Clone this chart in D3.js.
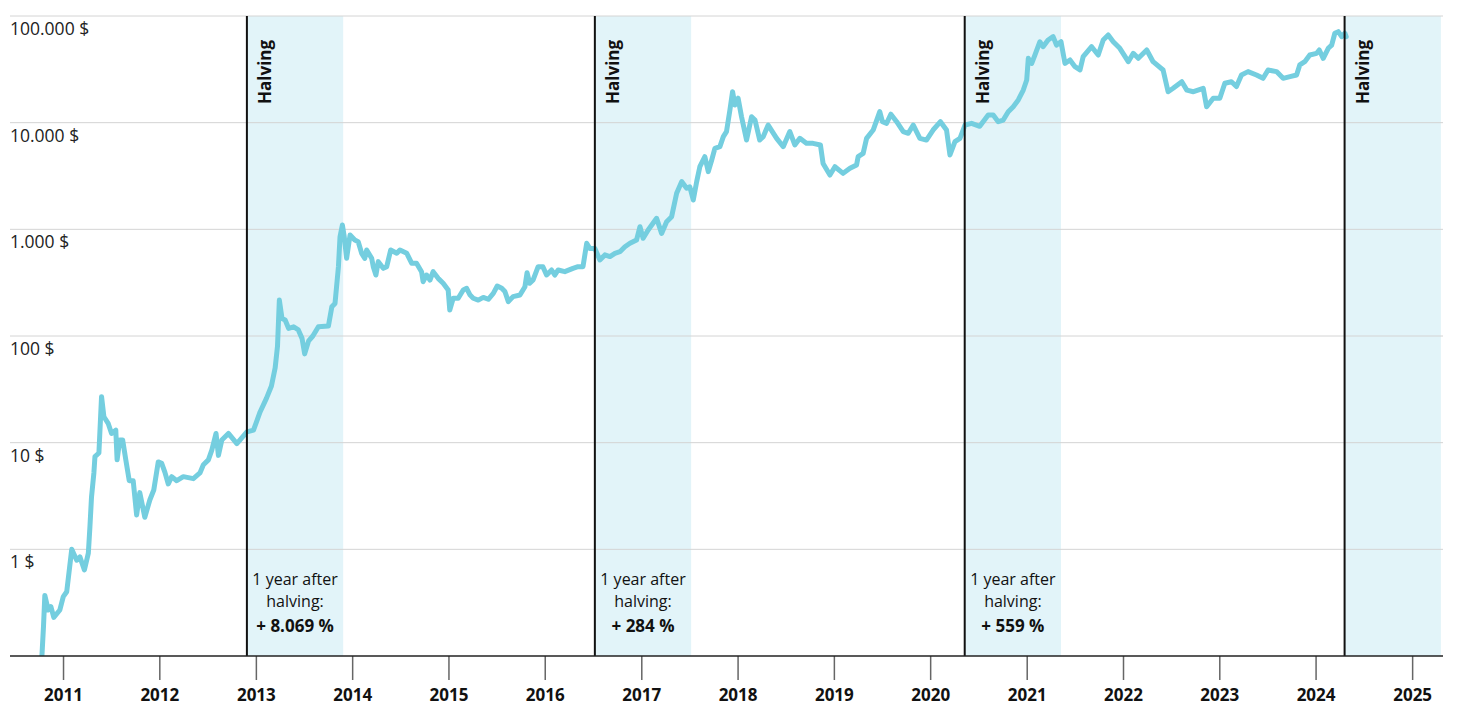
<!DOCTYPE html>
<html>
<head>
<meta charset="utf-8">
<script src="https://cdn.jsdelivr.net/npm/d3@7"></script>
<style>
  body { margin: 0; background: #fff; }
  svg { display: block; font-family: "Open Sans", sans-serif; }
</style>
</head>
<body>
<div id="chart"></div>
<script>
// price history (USD, log scale)
const priceDates = [
  "2010-09-20","2010-10-13","2010-10-19","2010-10-24","2010-11-06","2010-11-16","2010-11-27","2010-12-20",
  "2011-01-02","2011-01-15","2011-02-03","2011-02-22","2011-03-06","2011-03-23","2011-04-07","2011-04-13",
  "2011-04-19","2011-04-28","2011-05-02","2011-05-17","2011-05-27","2011-06-05","2011-06-21","2011-07-04",
  "2011-07-20","2011-07-25","2011-08-04","2011-08-15","2011-08-27","2011-09-09","2011-09-24","2011-10-07",
  "2011-10-19","2011-11-07","2011-11-26","2011-12-11","2011-12-28","2012-01-10","2012-01-22","2012-02-04",
  "2012-02-17","2012-03-07","2012-04-01","2012-05-09","2012-06-03","2012-06-16","2012-07-05","2012-07-18",
  "2012-08-03","2012-08-12","2012-08-25","2012-09-19","2012-10-21","2012-11-28","2012-12-23","2013-01-17",
  "2013-02-10","2013-03-01","2013-03-15","2013-03-24","2013-03-31","2013-04-10","2013-04-22","2013-05-05",
  "2013-05-24","2013-06-11","2013-06-25","2013-07-05","2013-07-20","2013-08-05","2013-08-26","2013-10-03",
  "2013-10-16","2013-10-28","2013-11-10","2013-11-16","2013-11-25","2013-12-02","2013-12-11","2013-12-24",
  "2014-01-11","2014-01-24","2014-02-06","2014-02-18","2014-02-25","2014-03-16","2014-03-22","2014-04-01",
  "2014-04-10","2014-04-29","2014-05-12","2014-05-27","2014-06-19","2014-07-01","2014-07-27","2014-08-15",
  "2014-09-02","2014-09-21","2014-09-27","2014-10-10","2014-10-23","2014-11-04","2014-11-23","2014-12-12",
  "2014-12-31","2015-01-06","2015-01-19","2015-02-07","2015-02-26","2015-03-11","2015-03-24","2015-04-05",
  "2015-04-24","2015-05-13","2015-06-01","2015-06-20","2015-07-05","2015-07-22","2015-08-03","2015-08-16",
  "2015-09-03","2015-09-29","2015-10-18","2015-10-26","2015-11-05","2015-11-18","2015-12-07","2015-12-25",
  "2016-01-08","2016-01-27","2016-02-08","2016-02-21","2016-03-17","2016-04-17","2016-05-06","2016-05-25",
  "2016-06-08","2016-06-20","2016-07-09","2016-07-28","2016-08-16","2016-09-04","2016-09-23","2016-10-12",
  "2016-10-31","2016-11-19","2016-12-14","2016-12-27","2017-01-08","2017-01-27","2017-02-28","2017-03-19",
  "2017-04-07","2017-04-26","2017-05-15","2017-06-03","2017-06-22","2017-07-04","2017-07-17","2017-07-30",
  "2017-08-11","2017-08-30","2017-09-12","2017-09-25","2017-10-07","2017-10-26","2017-11-08","2017-11-20",
  "2017-12-03","2017-12-13","2017-12-22","2018-01-03","2018-01-16","2018-02-04","2018-02-23","2018-03-08",
  "2018-03-26","2018-04-08","2018-04-27","2018-05-29","2018-06-23","2018-07-18","2018-08-06","2018-08-25",
  "2018-09-19","2018-10-14","2018-11-11","2018-11-21","2018-12-17","2019-01-05","2019-02-05","2019-03-03",
  "2019-03-28","2019-04-03","2019-04-22","2019-05-05","2019-05-30","2019-06-24","2019-07-04","2019-07-20",
  "2019-08-05","2019-08-27","2019-09-21","2019-10-10","2019-10-29","2019-11-23","2019-12-18","2020-01-12",
  "2020-02-09","2020-03-03","2020-03-16","2020-04-04","2020-04-23","2020-05-12","2020-06-06","2020-07-07",
  "2020-08-08","2020-08-27","2020-09-15","2020-10-04","2020-10-23","2020-11-11","2020-11-30","2020-12-19",
  "2021-01-01","2021-01-07","2021-01-20","2021-02-01","2021-02-20","2021-03-04","2021-03-23","2021-04-11",
  "2021-04-24","2021-05-11","2021-05-26","2021-06-14","2021-07-03","2021-07-22","2021-08-03","2021-09-04",
  "2021-09-29","2021-10-18","2021-11-06","2021-11-25","2021-12-20","2022-01-21","2022-02-09","2022-02-28",
  "2022-04-01","2022-04-25","2022-06-02","2022-06-21","2022-07-10","2022-08-12","2022-08-31","2022-09-25",
  "2022-11-01","2022-11-14","2022-12-09","2023-01-03","2023-01-22","2023-02-16","2023-03-07","2023-03-26",
  "2023-04-20","2023-05-22","2023-06-16","2023-07-05","2023-08-06","2023-08-31","2023-09-26","2023-10-21",
  "2023-11-02","2023-11-21","2023-12-10","2024-01-05","2024-01-15","2024-01-30","2024-02-18","2024-03-02",
  "2024-03-14","2024-03-27","2024-04-09","2024-04-21","2024-04-26"
];
const priceValues = [
  0.06, 0.10, 0.19, 0.37, 0.27, 0.29, 0.23, 0.27,
  0.36, 0.40, 1.0, 0.79, 0.85, 0.64, 0.92, 1.63,
  3.1, 5.2, 7.4, 8.0, 27.0, 17.5, 15.2, 12.2,
  13.1, 6.9, 10.6, 10.6, 6.9, 4.4, 4.4, 2.1,
  3.4, 2.0, 2.9, 3.6, 6.6, 6.4, 5.3, 4.1,
  4.8, 4.4, 4.8, 4.6, 5.2, 6.2, 6.9, 8.5,
  12.2, 7.6, 10.6, 12.2, 9.8, 12.6, 13.1, 19.4,
  26, 34, 50, 80, 217, 146, 141, 118,
  122, 114, 95, 68, 90, 100, 122, 124,
  188, 202, 447, 853, 1097, 853, 535, 885,
  794, 766, 596, 535, 640, 535, 447, 373,
  498, 431, 447, 640, 596, 640, 596, 480,
  480, 401, 323, 373, 335, 401, 347, 312,
  270, 175, 226, 226, 270, 280, 242, 226,
  217, 230, 221, 251, 294, 280, 261, 210,
  234, 242, 290, 392, 312, 335, 447, 447,
  373, 416, 373, 416, 401, 431, 447, 447,
  740, 661, 661, 516, 576, 556, 596, 617,
  687, 740, 794, 1059, 824, 986, 1268, 916,
  1180, 1315, 2178, 2800, 2428, 2500, 1884, 2800,
  3864, 4797, 3474, 4467, 5743, 5959, 7396, 8247,
  13160, 19500, 14660, 16950, 11370, 6870, 11370, 10590,
  6870, 7396, 9500, 7130, 5959, 8247, 6180, 7130,
  6400, 6400, 6180, 4150, 3228, 3864, 3350, 3730,
  4010, 4800, 5150, 7130, 8530, 12680, 10210, 9860,
  12000, 10210, 8247, 7950, 9500, 7130, 6870, 8530,
  10210, 8530, 4980, 6640, 7130, 9500, 9860, 9250,
  11800, 11800, 10210, 10590, 12680, 14125, 16320, 20230,
  25100, 40100, 35970, 43050, 57400, 51520, 59570, 64000,
  53400, 57400, 35970, 38730, 33500, 31200, 41600, 51520,
  43050, 59570, 66400, 57400, 49800, 37300, 44700, 40100,
  48000, 37300, 31200, 19500, 21000, 24200, 20200, 19500,
  21000, 14125, 16950, 16950, 23400, 24200, 21800, 28000,
  30100, 28000, 26050, 31200, 30100, 26050, 27000, 28000,
  34760, 37300, 43050, 44700, 48000, 40100, 49800, 53400,
  68900, 71300, 64000, 68900, 64000
];

const halvingDates = ["2012-11-28", "2016-07-09", "2020-05-11", "2024-04-20"];
const halvingGains = ["+ 8.069 %", "+ 284 %", "+ 559 %", null];

const yTicks = [100000, 10000, 1000, 100, 10, 1];
const yTickLabels = ["100.000 $", "10.000 $", "1.000 $", "100 $", "10 $", "1 $"];
const xTickYears = d3.range(2011, 2026);

const W = 1458, H = 723;
const plot = { left: 10, right: 1443, top: 16, bottom: 656 };

const parse = d3.timeParse("%Y-%m-%d");
const data = priceDates.map((d, i) => ({ date: parse(d), value: priceValues[i] }));

const svg = d3.select("#chart")
    .append("svg")
    .attr("width", W)
    .attr("height", H);

const x = d3.scaleTime()
    .domain([parse("2010-06-14"), parse("2025-04-28")])
    .range([plot.left, plot.right]);

const y = d3.scaleLog()
    .domain([0.1, 100000])
    .range([plot.bottom, plot.top]);

svg.append("clipPath")
    .attr("id", "plot-clip")
    .append("rect")
    .attr("x", plot.left)
    .attr("y", plot.top)
    .attr("width", plot.right - plot.left)
    .attr("height", plot.bottom - plot.top);

// shaded year after each halving
const halvings = halvingDates.map((d, i) => {
    const start = parse(d);
    const end = d3.timeYear.offset(start, 1);
    return { start, end, gain: halvingGains[i] };
});

svg.append("g")
    .attr("clip-path", "url(#plot-clip)")
    .selectAll("rect")
    .data(halvings)
    .join("rect")
    .attr("x", d => x(d.start))
    .attr("y", plot.top)
    .attr("width", d => Math.min(x(d.end), plot.right) - x(d.start))
    .attr("height", plot.bottom - plot.top)
    .attr("fill", "#e2f4f9");

// horizontal grid
svg.append("g")
    .selectAll("line")
    .data(yTicks)
    .join("line")
    .attr("x1", plot.left)
    .attr("x2", plot.right)
    .attr("y1", d => y(d))
    .attr("y2", d => y(d))
    .attr("stroke", "#d4d4d4")
    .attr("stroke-width", 1);

svg.append("g")
    .selectAll("text")
    .data(yTicks)
    .join("text")
    .attr("x", plot.left)
    .attr("y", d => y(d) + 19)
    .style("font-size", "17.5px")
    .attr("fill", "#222")
    .text((d, i) => yTickLabels[i]);

// price line
const line = d3.line()
    .x(d => x(d.date))
    .y(d => y(d.value));

svg.append("path")
    .datum(data)
    .attr("clip-path", "url(#plot-clip)")
    .attr("fill", "none")
    .attr("stroke", "#74cedf")
    .attr("stroke-width", 5)
    .attr("stroke-linejoin", "round")
    .attr("stroke-linecap", "round")
    .attr("d", line);

// halving lines and labels
const hg = svg.append("g")
    .selectAll("g")
    .data(halvings)
    .join("g");

hg.append("line")
    .attr("x1", d => x(d.start))
    .attr("x2", d => x(d.start))
    .attr("y1", plot.top)
    .attr("y2", plot.bottom)
    .attr("stroke", "#111")
    .attr("stroke-width", 2);

hg.append("text")
    .attr("transform", d => `translate(${x(d.start) + 24}, 104) rotate(-90)`)
    .style("font-size", "17px")
    .style("font-weight", "700")
    .attr("fill", "#111")
    .text("Halving");

const notes = hg.filter(d => d.gain)
    .append("text")
    .attr("text-anchor", "middle")
    .attr("fill", "#111")
    .attr("transform", d => `translate(${(x(d.start) + x(d.end)) / 2}, 0)`);

notes.append("tspan").attr("x", 0).attr("y", 585).style("font-size", "16px").text("1 year after");
notes.append("tspan").attr("x", 0).attr("y", 607).style("font-size", "16px").text("halving:");
notes.append("tspan").attr("x", 0).attr("y", 632)
    .style("font-size", "17px")
    .style("font-weight", "700")
    .text(d => d.gain);

// x axis
const xAxis = svg.append("g")
    .attr("transform", `translate(0, ${plot.bottom})`)
    .call(d3.axisBottom(x)
        .tickValues(xTickYears.map(yr => new Date(yr, 0, 1)))
        .tickSize(24)
        .tickPadding(8)
        .tickFormat(d3.timeFormat("%Y")));

xAxis.select(".domain").remove();
xAxis.selectAll(".tick line").attr("stroke", "#666").attr("stroke-width", 1.5);
xAxis.selectAll(".tick text")
    .attr("y", 45)
    .attr("dy", 0)
    .style("font-family", "'Open Sans', sans-serif")
    .style("font-size", "17px")
    .style("font-weight", "700")
    .attr("fill", "#111");

svg.append("line")
    .attr("x1", plot.left)
    .attr("x2", plot.right)
    .attr("y1", plot.bottom)
    .attr("y2", plot.bottom)
    .attr("stroke", "#222")
    .attr("stroke-width", 1.5);
</script>
</body>
</html>
